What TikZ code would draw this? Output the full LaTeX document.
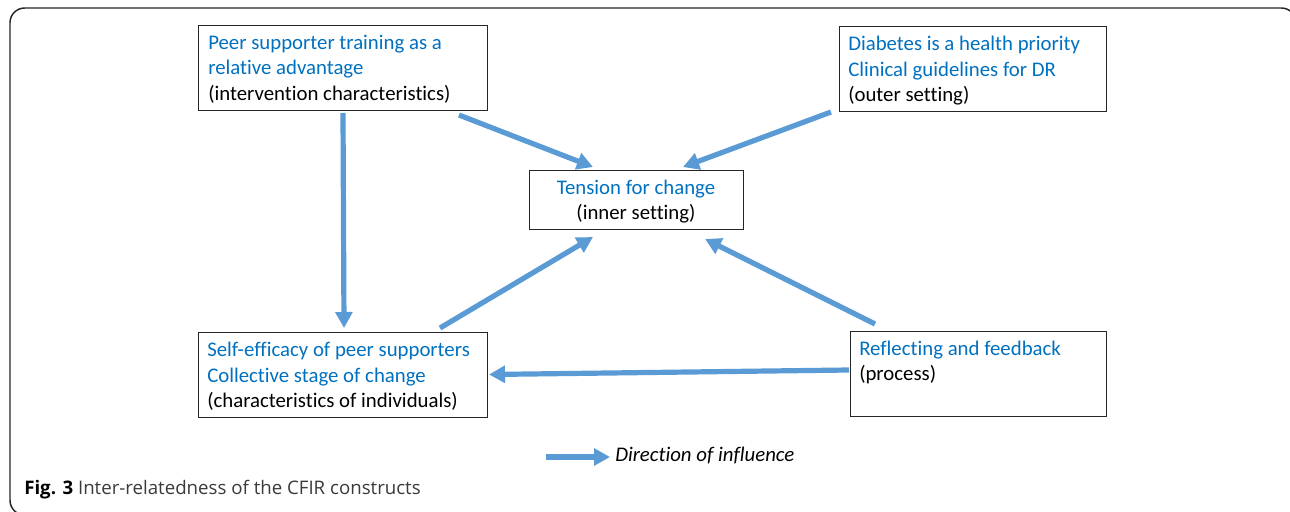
\documentclass[tikz,border=0pt]{standalone}
\usepackage{fontspec}
\setmainfont{Carlito}[Ligatures={NoCommon,NoContextual,NoRare}]
\newfontfamily\capfont{Open Sans}
\usetikzlibrary{arrows.meta,calc}
\definecolor{arrblue}{HTML}{5B9BD5}
\definecolor{txtblue}{HTML}{0070C0}
\definecolor{capgray}{HTML}{3A3A3A}
\begin{document}
\begin{tikzpicture}[x=0.75pt,y=-0.75pt,
  boxst/.style 2 args={draw=black!85, line width=0.75pt, inner sep=0pt, outer sep=0pt,
     minimum width=#1*0.75pt, minimum height=#2*0.75pt},
  lbl/.style={anchor=base west, inner sep=0pt, font=\fontsize{15.6}{19}\selectfont},
  clbl/.style={anchor=base, inner sep=0pt, font=\fontsize{15.6}{19}\selectfont},
  arr/.style={draw=arrblue, line width=3.9pt, -{Triangle[length=12pt,width=12.5pt]}}]
\useasboundingbox (0,0) rectangle (1290,511);
% outer frame
\draw[line width=1.1pt, black!85, rounded corners=11] (40,515) -- (10,515) -- (10,8) -- (1296,8) -- (1296,60);
% boxes
\node[boxst={289}{85}] (A) at (342.5,67.5) {};
\node[boxst={267}{85}] (B) at (972.5,68.5) {};
\node[boxst={214}{59}] (C) at (636,199.5) {};
\node[boxst={289}{85}] (D) at (342.5,374.5) {};
\node[boxst={256}{85}] (E) at (978,373.5) {};
% texts
\node[lbl, txtblue] (a1) at (208,49) {Peer supporter training as a};
\node[lbl, txtblue] (a2) at (208,74.5) {relative advantage};
\node[lbl] (a3) at (208,100) {(intervention characteristics)};
\node[lbl, txtblue] (b1) at (848,50.5) {Diabetes is a health priority};
\node[lbl, txtblue] (b2) at (848,76) {Clinical guidelines for DR};
\node[lbl] (b3) at (848,101.5) {(outer setting)};
\node[clbl, txtblue] (c1) at (636,194) {Tension for change};
\node[clbl] (c2) at (636,219) {(inner setting)};
\node[lbl, txtblue] (d1) at (207,356.5) {Self-efficacy of peer supporters};
\node[lbl, txtblue] (d2) at (207,382) {Collective stage of change};
\node[lbl] (d3) at (207,407) {(characteristics of individuals)};
\node[lbl, txtblue] (e1) at (859,355) {Reflecting and feedback};
\node[lbl] (e2) at (859,380.5) {(process)};
% connectors
\draw[arr] ($(A.south)+(0.5,3)$) -- ($(D.north)+(1.5,-4)$);
\draw[arr] ($(A.south east)+(-28,5)$) -- ($(C.north west)+(64,-3)$);
\draw[arr] ($(B.south west)+(-8,1)$) -- ($(C.north east)+(-60,-3)$);
\draw[arr] ($(D.north east)+(-47,-4)$) -- ($(C.south west)+(64,8)$);
\draw[arr] ($(E.north west)+(25,-7)$) -- ($(C.south east)+(-38,10)$);
\draw[arr] ($(E.west)+(-1,-3.5)$) -- ($(D.east)+(2,0)$);
% legend
\coordinate (legS) at (546,457);
\coordinate (legE) at (610,457);
\draw[arr] (legS) -- (legE);
\node[lbl] (legT) at (615,461.5) {\itshape Direction of influence};
% caption
\node[anchor=base west, inner sep=0pt, font=\capfont\fontsize{14}{16}\selectfont] (cap) at (24,494)
  {\textbf{Fig. 3} \textcolor{capgray}{Inter-relatedness of the CFIR constructs}};
\end{tikzpicture}
\end{document}
